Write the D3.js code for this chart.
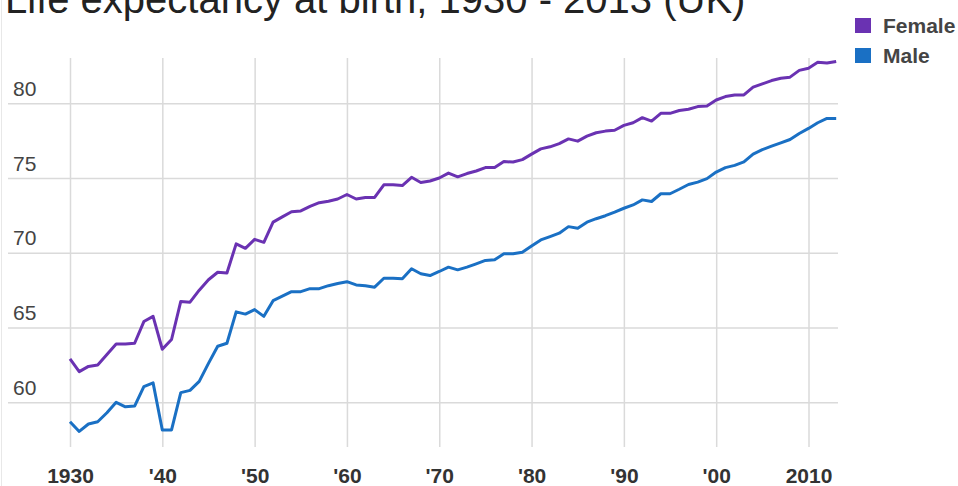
<!DOCTYPE html>
<html>
<head>
<meta charset="utf-8">
<script src="https://cdn.jsdelivr.net/npm/d3@7"></script>
<style>
    body { margin: 0; background: #fff; }
    svg { display: block; font-family: "Liberation Sans", Arial, sans-serif; }
</style>
</head>
<body>
<div id="chart"></div>
<script>
// life expectancy at birth, UK, 1930 - 2013
const years = d3.range(1930, 2014);

const female = [
    62.9, 62.05, 62.4, 62.5, 63.2, 63.9, 63.9, 63.95, 65.4, 65.75,
    63.55, 64.2, 66.75, 66.7, 67.5, 68.2, 68.7, 68.65, 70.6, 70.3,
    70.9, 70.7, 72.05, 72.4, 72.75, 72.8, 73.1, 73.35, 73.45, 73.6,
    73.9, 73.6, 73.7, 73.7, 74.55, 74.55, 74.5, 75.05, 74.7, 74.8,
    75.0, 75.33, 75.08, 75.3, 75.47, 75.7, 75.7, 76.1, 76.07, 76.23,
    76.6, 76.95, 77.09, 77.3, 77.62, 77.47, 77.8, 78.03, 78.14, 78.2,
    78.52, 78.7, 79.04, 78.81, 79.33, 79.33, 79.52, 79.6, 79.78, 79.82,
    80.22, 80.45, 80.56, 80.56, 81.08, 81.3, 81.52, 81.68, 81.75, 82.2,
    82.35, 82.74, 82.69, 82.8
];

const male = [
    58.7, 58.05, 58.55, 58.7, 59.3, 60.0, 59.7, 59.75, 61.05, 61.3,
    58.15, 58.15, 60.65, 60.8, 61.4, 62.6, 63.75, 63.95, 66.05, 65.9,
    66.2, 65.75, 66.8, 67.1, 67.4, 67.4, 67.6, 67.6, 67.8, 67.95,
    68.07, 67.85, 67.8, 67.7, 68.3, 68.3, 68.26, 68.93, 68.6, 68.48,
    68.75, 69.04, 68.86, 69.04, 69.26, 69.49, 69.53, 69.93, 69.93, 70.04,
    70.45, 70.86, 71.08, 71.31, 71.75, 71.64, 72.05, 72.28, 72.48, 72.72,
    72.98, 73.2, 73.54, 73.43, 73.95, 73.95, 74.25, 74.57, 74.73, 74.96,
    75.4, 75.7, 75.85, 76.08, 76.6, 76.9, 77.13, 77.35, 77.58, 77.98,
    78.32, 78.7, 78.99, 78.99
];

const xTicks = [1930, 1940, 1950, 1960, 1970, 1980, 1990, 2000, 2010];
const xTickLabels = ["1930", "'40", "'50", "'60", "'70", "'80", "'90", "'00", "2010"];
const yTicks = [60, 65, 70, 75, 80];
const seriesNames = ["Female", "Male"];
const seriesColors = ["#6a32b2", "#1a70c4"];

const width = 958, height = 486;

const svg = d3.select("#chart").append("svg")
    .attr("width", width)
    .attr("height", height);

// faint frame line on the left edge
svg.append("line")
    .attr("x1", 1.5).attr("x2", 1.5)
    .attr("y1", 0).attr("y2", height)
    .attr("stroke", "#e8e8e8");

// title, partly cut off at the top as in the original
svg.append("text")
    .attr("x", 5)
    .attr("y", 13)
    .style("font-size", "40px")
    .attr("fill", "#222")
    .text("Life expectancy at birth, 1930 - 2013 (UK)");

const x = d3.scaleLinear()
    .domain([1930, 2010])
    .range([70, 808.5]);

const y = d3.scaleLinear()
    .domain([60, 80])
    .range([402.3, 103.3]);

const gridTop = 58, gridBottom = 447, gridLeft = 8, gridRight = 838;

// vertical grid + year labels
const xAxis = d3.axisBottom(x)
    .tickValues(xTicks)
    .tickSize(-(gridBottom - gridTop))
    .tickFormat((d, i) => xTickLabels[i]);

const gx = svg.append("g")
    .attr("transform", `translate(0, ${gridBottom})`)
    .call(xAxis);
gx.select(".domain").remove();
gx.selectAll(".tick line").attr("stroke", "#dadada").attr("stroke-width", 1.5);
gx.selectAll(".tick text")
    .attr("y", 36)
    .attr("dy", 0)
    .attr("fill", "#333")
    .style("font-size", "21px")
    .style("font-weight", "bold")
    .style("font-family", "\"Liberation Sans\", Arial, sans-serif");

// horizontal grid + value labels above each line
const yAxis = d3.axisLeft(y)
    .tickValues(yTicks)
    .tickSize(-(gridRight - gridLeft));

const gy = svg.append("g")
    .attr("transform", `translate(${gridLeft}, 0)`)
    .call(yAxis);
gy.select(".domain").remove();
gy.selectAll(".tick line").attr("stroke", "#dadada").attr("stroke-width", 1.5);
gy.selectAll(".tick text")
    .attr("x", 5)
    .attr("dy", 0)
    .attr("y", -8)
    .attr("text-anchor", "start")
    .attr("fill", "#444")
    .style("font-size", "21px")
    .style("font-family", "\"Liberation Sans\", Arial, sans-serif");

// lines
const line = d3.line()
    .x((d, i) => x(years[i]))
    .y(d => y(d));

[female, male].forEach((values, k) => {
    svg.append("path")
        .datum(values)
        .attr("fill", "none")
        .attr("stroke", seriesColors[k])
        .attr("stroke-width", 3)
        .attr("stroke-linejoin", "round")
        .attr("d", line);
});

// legend
const legend = svg.append("g")
    .attr("transform", "translate(855, 18)");

seriesNames.forEach((name, k) => {
    legend.append("rect")
        .attr("x", 0)
        .attr("y", k * 30)
        .attr("width", 16)
        .attr("height", 15)
        .attr("fill", seriesColors[k]);
    legend.append("text")
        .attr("x", 28)
        .attr("y", k * 30 + 15)
        .attr("fill", "#444")
        .style("font-size", "21px")
        .style("font-weight", "bold")
        .text(name);
});
</script>
</body>
</html>
